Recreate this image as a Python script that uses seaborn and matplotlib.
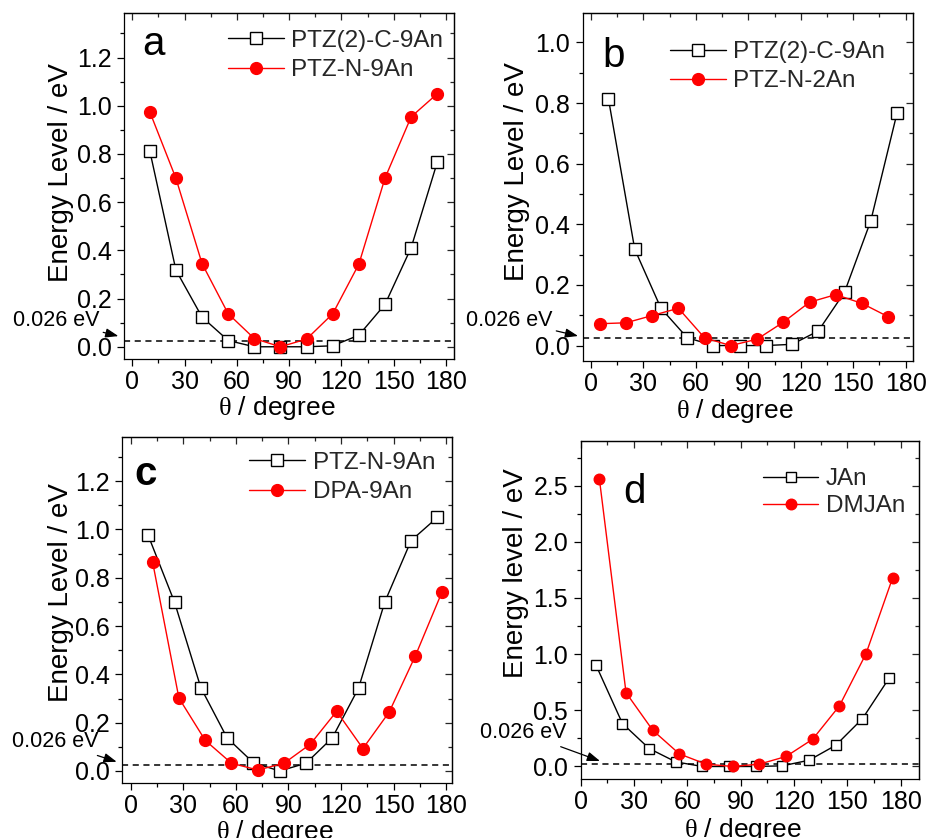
import matplotlib
matplotlib.use("Agg")
import matplotlib.pyplot as plt
import seaborn as sns
import pandas as pd
from matplotlib.ticker import MultipleLocator, FormatStrFormatter

# ---------------- data ----------------
theta_std = [10, 25, 40, 55, 70, 85, 100, 115, 130, 145, 160, 175]
ptz2_c_9an = [0.813, 0.318, 0.123, 0.026, 0.0, 0.0, 0.0, 0.004, 0.048, 0.176, 0.411, 0.766]
ptz_n_9an = [0.975, 0.699, 0.345, 0.137, 0.034, 0.0, 0.032, 0.137, 0.343, 0.700, 0.954, 1.050]

theta_ptz_n_2an = [5, 20, 35, 50, 65, 80, 95, 110, 125, 140, 155, 170]
ptz_n_2an = [0.072, 0.075, 0.099, 0.123, 0.025, 0.0, 0.021, 0.077, 0.143, 0.168, 0.139, 0.095]

theta_dpa_9an = [12.5, 27.5, 42.5, 57.5, 72.5, 87.5, 102.5, 117.5, 132.5, 147.5, 162.5, 177.5]
dpa_9an = [0.865, 0.302, 0.127, 0.032, 0.004, 0.032, 0.111, 0.247, 0.093, 0.244, 0.478, 0.739]

theta_jan = [8.5, 23.5, 38.5, 53.5, 68.5, 83.5, 98.5, 113.5, 128.5, 143.5, 158.5, 173.5]
jan = [0.906, 0.382, 0.160, 0.041, 0.0, 0.0, 0.0, 0.006, 0.056, 0.189, 0.426, 0.787]
theta_dmjan = [10.5, 25.5, 40.5, 55.5, 70.5, 85.5, 100.5, 115.5, 130.5, 145.5, 160.5, 175.5]
dmjan = [2.561, 0.657, 0.323, 0.112, 0.021, 0.0, 0.021, 0.089, 0.243, 0.539, 1.004, 1.681]

thermal_energy = 0.026
thermal_label = "0.026 eV"

# ---------------- style ----------------
sns.set_theme(style="ticks")
plt.rcParams["font.family"] = ["Liberation Sans", "DejaVu Sans"]
plt.rcParams["mathtext.fontset"] = "custom"
plt.rcParams["mathtext.rm"] = "Liberation Serif"
plt.rcParams["mathtext.it"] = "Liberation Serif:italic"
plt.rcParams["axes.linewidth"] = 0.9

W, H = 927, 838
fig = plt.figure(figsize=(W / 100, H / 100), dpi=100)


def rect(l, r, t, b):
    return [l / W, 1 - b / H, (r - l) / W, (b - t) / H]


black_kw = dict(color="black", marker="s", markerfacecolor="white",
                markeredgecolor="black", markeredgewidth=1.0, linewidth=1.0)
red_kw = dict(color="red", marker="o", markerfacecolor="red",
              markeredgecolor="red", markeredgewidth=1.0, linewidth=1.0)

panels = [
    dict(rect=rect(124, 454, 13, 359.3), xlim=(-4.8, 184.6), ylim=(-0.052, 1.385),
         ymaj=0.2, ymin=0.1, letter="a", letter_xy=(0.054, 0.879), letter_w="normal",
         series=[(theta_std, ptz2_c_9an, "PTZ(2)-C-9An", black_kw, 8.5),
                 (theta_std, ptz_n_9an, "PTZ-N-9An", red_kw, 8.5)],
         leg_anchor=(0.967, 0.951), leg_space=0.3,
         ylabel="Energy Level / eV", ylab_xy=(-0.150, 0.54), xlab_xy=(0.464, -0.10),
         ann_text=(-0.073, 0.111), ann_tip=(-0.017, 0.067)),
    dict(rect=rect(582.7, 912.7, 13, 360.7), xlim=(-4.75, 184.0), ylim=(-0.05, 1.097),
         ymaj=0.2, ymin=0.1, letter="b", letter_xy=(0.061, 0.845), letter_w="normal",
         series=[(theta_std, ptz2_c_9an, "PTZ(2)-C-9An", black_kw, 8.5),
                 (theta_ptz_n_2an, ptz_n_2an, "PTZ-N-2An", red_kw, 8.5)],
         leg_anchor=(0.916, 0.919), leg_space=0.3,
         ylabel="Energy Level / eV", ylab_xy=(-0.160, 0.545), xlab_xy=(0.4615, -0.104),
         ann_text=(-0.09, 0.117), ann_tip=(-0.014, 0.071)),
    dict(rect=rect(122.3, 452.3, 436.7, 783.3), xlim=(-4.8, 183.5), ylim=(-0.051, 1.384),
         ymaj=0.2, ymin=0.1, letter="c", letter_xy=(0.038, 0.861), letter_w="bold",
         series=[(theta_std, ptz_n_9an, "PTZ-N-9An", black_kw, 8.5),
                 (theta_dpa_9an, dpa_9an, "DPA-9An", red_kw, 8.5)],
         leg_anchor=(0.948, 0.956), leg_space=0.3,
         ylabel="Energy Level / eV", ylab_xy=(-0.145, 0.55), xlab_xy=(0.463, -0.099),
         ann_text=(-0.072, 0.12), ann_tip=(-0.017, 0.062)),
    dict(rect=rect(580.7, 919, 440.7, 779.3), xlim=(0, 190.3), ylim=(-0.114, 2.9),
         ymaj=0.5, ymin=0.25, letter="d", letter_xy=(0.125, 0.816), letter_w="normal",
         series=[(theta_jan, jan, "JAn", black_kw, 7.2),
                 (theta_dmjan, dmjan, "DMJAn", red_kw, 7.6)],
         leg_anchor=(0.959, 0.919), leg_space=0.2,
         ylabel="Energy level / eV", ylab_xy=(-0.153, 0.61), xlab_xy=(0.478, -0.108),
         ann_text=(-0.043, 0.137), ann_tip=(0.057, 0.054)),
]

TICK_FS = 18
for p in panels:
    ax = fig.add_axes(p["rect"])
    for xs, ys, lab, kw, ms in p["series"]:
        df = pd.DataFrame({"theta": xs, "energy": ys})
        sns.lineplot(data=df, x="theta", y="energy", ax=ax, label=lab,
                     markersize=ms, legend=False, **kw)
    ax.axhline(thermal_energy, color="black", linestyle=(0, (4, 3)), linewidth=1.1, zorder=1)

    ax.set_xlim(*p["xlim"])
    ax.set_ylim(*p["ylim"])
    ax.xaxis.set_major_locator(MultipleLocator(30))
    ax.xaxis.set_minor_locator(MultipleLocator(15))
    ax.yaxis.set_major_locator(MultipleLocator(p["ymaj"]))
    ax.yaxis.set_minor_locator(MultipleLocator(p["ymin"]))
    ax.yaxis.set_major_formatter(FormatStrFormatter("%.1f"))
    ax.tick_params(which="major", direction="out", length=5, width=0.9,
                   labelsize=TICK_FS, pad=3, colors="black")
    ax.tick_params(which="minor", direction="out", length=3, width=0.9, colors="black")
    ax.tick_params(axis="y", which="major", pad=4)

    secx = ax.secondary_xaxis("top")
    secx.xaxis.set_major_locator(MultipleLocator(30))
    secx.xaxis.set_minor_locator(MultipleLocator(15))
    secx.tick_params(which="major", direction="in", length=5, width=0.9, labeltop=False)
    secx.tick_params(which="minor", direction="in", length=3, width=0.9)
    secy = ax.secondary_yaxis("right")
    secy.yaxis.set_major_locator(MultipleLocator(p["ymaj"]))
    secy.yaxis.set_minor_locator(MultipleLocator(p["ymin"]))
    secy.tick_params(which="major", direction="in", length=5, width=0.9, labelright=False)
    secy.tick_params(which="minor", direction="in", length=3, width=0.9)

    for s in ax.spines.values():
        s.set_color("black")

    ax.set_xlabel(r"$\mathrm{\theta}$ / degree", fontsize=19, color="black")
    ax.xaxis.set_label_coords(*p["xlab_xy"])
    ax.set_ylabel(p["ylabel"], fontsize=20, color="black")
    ax.yaxis.set_label_coords(*p["ylab_xy"])

    ax.text(*p["letter_xy"], p["letter"], transform=ax.transAxes, fontsize=29,
            fontweight=p["letter_w"], va="baseline", ha="left", color="black")

    leg = ax.legend(loc="upper right", bbox_to_anchor=p["leg_anchor"], frameon=False,
                    fontsize=17.5, handlelength=2.3, handletextpad=0.3,
                    borderpad=0, borderaxespad=0, labelspacing=p["leg_space"])

    ax.annotate(thermal_label, xy=p["ann_tip"], xycoords="axes fraction",
                xytext=p["ann_text"], textcoords="axes fraction",
                ha="right", va="center", fontsize=15.5, color="black",
                annotation_clip=False,
                arrowprops=dict(arrowstyle="-|>,head_length=0.5,head_width=0.18",
                                color="black", lw=0.9, shrinkA=0, shrinkB=0))

fig.savefig("out.png", dpi=100)
